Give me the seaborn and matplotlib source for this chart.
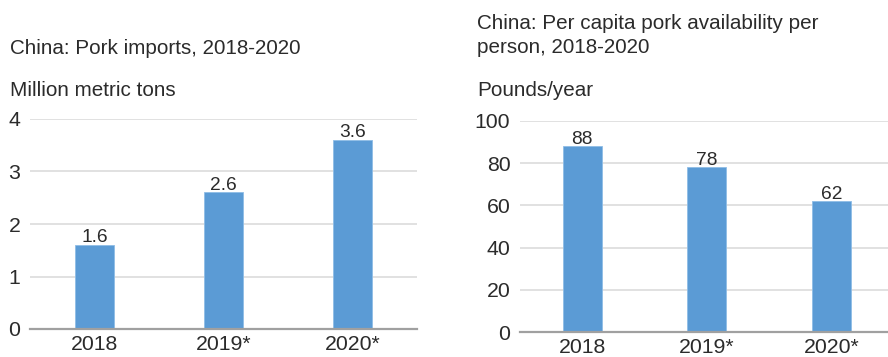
import matplotlib
matplotlib.use("Agg")
import matplotlib.pyplot as plt
import seaborn as sns

years = ["2018", "2019*", "2020*"]
imports_mmt = [1.6, 2.6, 3.6]
pork_lbs = [88, 78, 62]

imports_ticks = [0, 1, 2, 3, 4]
pork_ticks = [0, 20, 40, 60, 80, 100]

BAR = "#5B9BD5"
TEXT = "#2b2b2b"
GRID = "#dcdcdc"
AXIS = "#a0a0a0"

sns.set_theme(style="white")
plt.rcParams["font.family"] = ["Liberation Sans", "DejaVu Sans"]

W, H = 888, 357
fig = plt.figure(figsize=(W / 100, H / 100), dpi=100)


def px_axes(x0, x1, ybot, ytop):
    return fig.add_axes([x0 / W, (H - ybot) / H, (x1 - x0) / W, (ybot - ytop) / H])


def style(ax, ticks, top, fmt):
    ax.set_xlim(-0.5, 2.5)
    ax.set_ylim(0, top)
    ax.set_yticks(ticks)
    ax.set_yticklabels([fmt(t) for t in ticks])
    ax.yaxis.grid(True, color=GRID, linewidth=1.2)
    ax.set_axisbelow(True)
    for s in ["top", "right", "left"]:
        ax.spines[s].set_visible(False)
    ax.spines["bottom"].set_color(AXIS)
    ax.spines["bottom"].set_linewidth(1.6)
    ax.spines["bottom"].set_zorder(3)
    ax.tick_params(axis="both", length=0, labelsize=15.3, colors=TEXT)
    ax.tick_params(axis="x", pad=4)
    ax.tick_params(axis="y", pad=7)
    ax.set_xlabel("")
    ax.set_ylabel("")


def label_bars(ax, values, fmt):
    for i, v in enumerate(values):
        ax.annotate(fmt(v), (i, v), xytext=(0, 2.5), textcoords="offset pixels",
                    ha="center", va="baseline", fontsize=13.8, color=TEXT)


# Pork imports
ax1 = px_axes(30, 417, 329, 119)
sns.barplot(x=years, y=imports_mmt, ax=ax1, color=BAR, saturation=1, width=0.31,
            edgecolor="#8fbde6", linewidth=0.6)
style(ax1, imports_ticks, 4, lambda t: f"{t:g}")
label_bars(ax1, imports_mmt, lambda v: f"{v:.1f}")

# Per capita availability
ax2 = px_axes(520, 893.5, 332, 121)
sns.barplot(x=years, y=pork_lbs, ax=ax2, color=BAR, saturation=1, width=0.31,
            edgecolor="#8fbde6", linewidth=0.6)
style(ax2, pork_ticks, 100, lambda t: f"{t:g}")
label_bars(ax2, pork_lbs, lambda v: f"{v:g}")


def ftext(x, y, s, size=14.9):
    fig.text(x / W, (H - y) / H, s, ha="left", va="baseline", fontsize=size, color=TEXT)


ftext(10, 54, "China: Pork imports, 2018-2020")
ftext(10, 96, "Million metric tons")
ftext(477, 29, "China: Per capita pork availability per")
ftext(477, 53, "person, 2018-2020")
ftext(477, 96, "Pounds/year")

fig.savefig("out.png", dpi=100, facecolor="white")
